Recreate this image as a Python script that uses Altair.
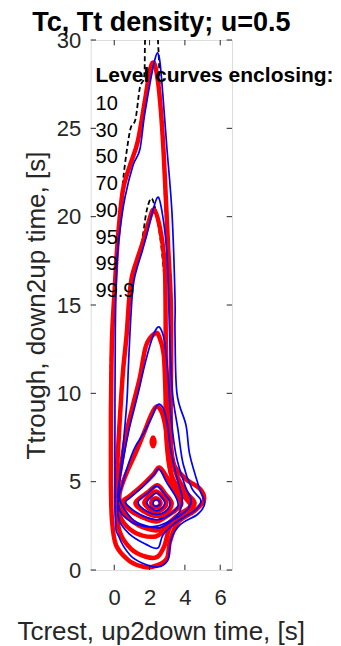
import altair as alt
import pandas as pd

# ---------------- data (data units) ----------------
title_text = "Tc, Tt density; u=0.5"
x_title = "Tcrest, up2down time, [s]"
y_title = "Ttrough, down2up time, [s]"
legend_header = "Level curves enclosing:"
levels = ["10", "30", "50", "70", "90", "95", "99", "99.9"]
x_ticks = [0, 2, 4, 6]
y_ticks = [0, 5, 10, 15, 20, 25, 30]
x_domain = [-1.333, 6.667]
y_domain = [0, 30]

# red (thick) level curves
red_999_x = [2.13, 2.95, 3.15, 3.6, 4.55, 5.08, 4.85, 4.0, 3.3, 3.2, 3.22, 3.2, 3.05, 2.9, 2.78, 2.64, 2.47, 2.25, 2.02, 1.79, 1.34, 0.89, 0.49, 0.2, 0.02, -0.13, -0.19, -0.19, -0.13, 0.1, 0.78, 1.45]
red_999_y = [0.17, 0.6, 1.6, 2.7, 3.35, 3.95, 4.6, 5.2, 6.2, 8.5, 11.9, 15.3, 18.3, 21.5, 23.9, 26.0, 27.7, 28.7, 28.3, 26.9, 24.3, 22.9, 21.5, 18.7, 15.8, 13.0, 8.5, 5.1, 2.83, 1.41, 0.57, 0.23]
red_99_x = [2.45, 2.85, 3.2, 4.1, 4.55, 4.0, 3.4, 3.05, 2.93, 2.9, 2.85, 2.6, 2.25, 1.95, 1.6, 1.3, 1.0, 0.85, 0.7, 0.5, 0.35, 0.2, 0.1, 0.3, 0.95, 1.8]
red_99_y = [0.75, 1.4, 2.5, 3.2, 3.8, 4.5, 5.8, 8.5, 12.0, 15.5, 17.4, 19.3, 20.4, 19.7, 18.5, 17.6, 16.6, 15.4, 13.3, 11.3, 9.1, 6.5, 4.0, 2.2, 1.2, 0.75]
red_95_x = [2.35, 2.8, 3.3, 4.1, 4.4, 3.8, 3.2, 2.95, 2.9, 2.8, 2.55, 2.3, 1.8, 1.45, 1.05, 0.7, 0.4, 0.15, 0.35, 0.9, 1.6]
red_95_y = [1.9, 2.2, 2.7, 3.3, 3.85, 4.4, 5.5, 7.5, 10.0, 12.2, 13.2, 13.4, 12.7, 10.9, 9.3, 7.8, 6.0, 4.2, 3.0, 2.3, 1.95]
red_90_x = [2.45, 3.0, 3.6, 4.3, 4.0, 3.4, 3.1, 2.95, 2.7, 2.4, 2.1, 1.7, 1.2, 0.7, 0.3, 0.45, 1.1, 1.8]
red_90_y = [2.25, 2.6, 3.1, 3.6, 4.1, 4.7, 6.2, 7.8, 8.9, 9.25, 8.8, 7.8, 6.6, 5.5, 4.3, 3.4, 2.7, 2.35]
red_70_x = [2.4, 2.9, 3.5, 3.8, 3.4, 2.95, 2.55, 2.2, 1.6, 0.9, 0.5, 1.0, 1.8]
red_70_y = [2.75, 3.0, 3.4, 3.8, 4.5, 5.3, 5.8, 5.4, 4.8, 4.2, 3.85, 3.3, 2.9]
red_50_x = [2.4, 3.0, 3.25, 2.9, 2.45, 1.9, 1.2, 1.7]
red_50_y = [3.05, 3.3, 3.8, 4.3, 4.8, 4.4, 3.8, 3.3]
red_30_x = [2.35, 2.8, 2.95, 2.7, 2.35, 1.95, 1.7, 2.0]
red_30_y = [3.3, 3.5, 3.85, 4.2, 4.45, 4.15, 3.8, 3.45]
red_10_x = [2.35, 2.6, 2.55, 2.3, 2.1, 2.15]
red_10_y = [3.55, 3.7, 3.95, 4.05, 3.85, 3.65]
red_10b_x = [2.2, 2.28, 2.2, 2.12]
red_10b_y = [7.0, 7.25, 7.5, 7.25]

# blue (thin) level curves
blue_999_x = [2.47, 3.04, 3.21, 3.72, 4.74, 5.13, 4.85, 4.28, 4.06, 3.55, 3.44, 3.44, 3.27, 2.98, 2.76, 2.55, 2.3, 1.74, 1.45, 1.06, 0.61, 0.32, 0.15, 0.06, 0.04, 0.06, 0.27, 0.89, 1.57]
blue_999_y = [0.17, 0.57, 1.7, 2.55, 3.17, 3.79, 4.53, 6.5, 8.2, 10.0, 13.4, 15.4, 20.2, 23.9, 26.8, 29.0, 28.9, 25.9, 23.8, 22.9, 21.1, 19.2, 17.4, 13.6, 8.5, 3.0, 1.87, 0.85, 0.4]
blue_99_x = [2.47, 2.76, 3.5, 4.6, 4.9, 4.4, 3.9, 3.6, 3.3, 3.15, 3.05, 2.95, 2.75, 2.5, 2.2, 1.85, 1.6, 1.12, 0.95, 0.8, 0.72, 0.5, 0.25, 0.25, 0.9, 1.8]
blue_99_y = [1.24, 1.98, 2.7, 3.4, 3.95, 4.6, 6.0, 8.0, 10.0, 13.0, 16.4, 18.3, 20.0, 21.1, 20.4, 19.0, 18.1, 16.4, 14.5, 11.5, 9.6, 7.0, 4.5, 2.9, 2.0, 1.45]
blue_95_x = [2.5, 3.0, 3.6, 4.2, 4.35, 4.0, 3.5, 3.2, 3.05, 2.85, 2.6, 2.35, 2.05, 1.7, 1.4, 1.15, 0.85, 0.5, 0.2, 0.35, 1.0, 1.8]
blue_95_y = [2.5, 2.7, 3.0, 3.5, 4.0, 4.8, 6.5, 8.8, 11.0, 12.9, 13.7, 13.6, 12.8, 11.5, 10.2, 9.2, 8.0, 6.2, 4.3, 3.3, 2.7, 2.45]
blue_90_x = [2.6, 3.2, 3.7, 3.85, 3.55, 3.2, 3.0, 2.75, 2.45, 2.15, 1.7, 1.2, 0.8, 0.45, 0.3, 1.0, 1.8]
blue_90_y = [2.4, 2.75, 3.3, 4.1, 5.2, 6.8, 8.3, 9.2, 9.35, 8.7, 7.8, 7.0, 6.0, 4.8, 4.0, 2.9, 2.5]
blue_70_x = [2.5, 3.1, 3.6, 3.5, 3.0, 2.55, 2.25, 1.6, 0.9, 0.65, 1.2, 1.9]
blue_70_y = [2.85, 3.1, 3.6, 4.1, 4.9, 5.7, 5.4, 4.7, 4.1, 3.8, 3.3, 2.95]
blue_50_x = [2.45, 3.0, 3.15, 2.85, 2.4, 1.9, 1.35, 1.8]
blue_50_y = [3.15, 3.4, 3.85, 4.3, 4.75, 4.35, 3.85, 3.35]
blue_30_x = [2.4, 2.75, 2.85, 2.65, 2.4, 2.05, 1.85, 2.1]
blue_30_y = [3.35, 3.55, 3.85, 4.15, 4.35, 4.1, 3.8, 3.5]
blue_10_x = [2.4, 2.6, 2.5, 2.3, 2.2, 2.25]
blue_10_y = [3.6, 3.75, 3.95, 3.95, 3.8, 3.65]

# black dashed level curves (mostly hidden under the red ones)
black_999_x = [2.1, 2.95, 3.15, 3.6, 4.55, 5.05, 4.85, 4.0, 3.3, 3.2, 3.2, 3.17, 3.0, 2.85, 2.75, 2.6, 2.5, 2.35, 1.8, 1.7, 1.45, 1.2, 0.9, 0.55, 0.32, 0.15, -0.05, -0.2, -0.22, -0.2, -0.15, 0.1, 0.8, 1.45]
black_999_y = [0.12, 0.55, 1.6, 2.7, 3.3, 3.95, 4.6, 5.2, 6.2, 8.5, 12.0, 15.3, 18.3, 21.5, 24.3, 26.8, 29.5, 31.0, 30.6, 28.0, 27.3, 25.5, 24.9, 22.5, 20.0, 18.1, 15.0, 12.0, 8.5, 5.1, 2.8, 1.4, 0.55, 0.2]
black_99_x = [2.4, 2.85, 3.2, 4.1, 4.5, 4.0, 3.4, 3.05, 2.93, 2.88, 2.75, 2.5, 2.15, 1.85, 1.6, 1.35, 1.05, 0.85, 0.7, 0.5, 0.35, 0.2, 0.1, 0.3, 0.95, 1.8]
black_99_y = [0.7, 1.4, 2.5, 3.2, 3.8, 4.5, 5.8, 8.5, 12.0, 15.5, 17.5, 19.5, 21.0, 20.4, 18.8, 17.5, 16.5, 15.2, 13.3, 11.3, 9.1, 6.5, 4.0, 2.2, 1.2, 0.7]

red_curves = {
    "r999": (red_999_x, red_999_y), "r99": (red_99_x, red_99_y), "r95": (red_95_x, red_95_y),
    "r90": (red_90_x, red_90_y), "r70": (red_70_x, red_70_y), "r50": (red_50_x, red_50_y),
    "r30": (red_30_x, red_30_y), "r10": (red_10_x, red_10_y), "r10b": (red_10b_x, red_10b_y),
}
blue_curves = {
    "b999": (blue_999_x, blue_999_y), "b99": (blue_99_x, blue_99_y), "b95": (blue_95_x, blue_95_y),
    "b90": (blue_90_x, blue_90_y), "b70": (blue_70_x, blue_70_y), "b50": (blue_50_x, blue_50_y),
    "b30": (blue_30_x, blue_30_y), "b10": (blue_10_x, blue_10_y),
}
black_curves = {"k999": (black_999_x, black_999_y), "k99": (black_99_x, black_99_y)}


def frame(curves):
    rows = []
    for name, (xs_, ys_) in curves.items():
        for i, (xv, yv) in enumerate(zip(xs_, ys_)):
            rows.append({"curve": name, "i": i, "x": xv, "y": yv})
    return pd.DataFrame(rows)


FONT = "Liberation Sans"
AX = "#262626"
xs = alt.Scale(domain=x_domain, nice=False, zero=False)
ys = alt.Scale(domain=y_domain, nice=False, zero=False)

x_axis = alt.Axis(values=x_ticks, ticks=False, tickSize=0, domain=False, grid=False,
                  labelFontSize=22, labelColor=AX, labelFont=FONT, labelPadding=17,
                  title=x_title, titleFontSize=26, titleFont=FONT, titleColor=AX,
                  titleFontWeight="normal", titleBaseline="alphabetic", titleX=70, titleY=69)
y_axis = alt.Axis(values=y_ticks, ticks=False, tickSize=0, domain=False, grid=False,
                  labelFontSize=22, labelColor=AX, labelFont=FONT, labelPadding=10,
                  labelBaseline="middle",
                  title=y_title, titleFontSize=26, titleFont=FONT, titleColor=AX,
                  titleFontWeight="normal", titleBaseline="alphabetic", titleAngle=-90,
                  titleX=-46, titleY=265)


def lines(df, **kw):
    return alt.Chart(df).mark_line(interpolate="cardinal-closed", clip=True, **kw).encode(
        x=alt.X("x:Q", scale=xs, axis=x_axis),
        y=alt.Y("y:Q", scale=ys, axis=y_axis),
        detail="curve:N",
        order="i:Q",
    )


black_layer = lines(frame(black_curves), color="black", strokeWidth=1.8, strokeDash=[5, 3])
red_layer = lines(frame(red_curves), color="#ff0000", strokeWidth=4.5, strokeCap="round", strokeJoin="round")
blue_layer = lines(frame(blue_curves), color="#0000ff", strokeWidth=1.7)

# MATLAB-style inward ticks
tick_len = 0.3
xt = pd.DataFrame({"t": x_ticks})
yt = pd.DataFrame({"t": y_ticks})
tick_style = dict(color=AX, strokeWidth=1)
xb = alt.Chart(xt).mark_rule(**tick_style).encode(
    x=alt.X("t:Q", scale=xs), y=alt.datum(y_domain[0], scale=ys), y2=alt.datum(y_domain[0] + tick_len))
xtop = alt.Chart(xt).mark_rule(**tick_style).encode(
    x=alt.X("t:Q", scale=xs), y=alt.datum(y_domain[1], scale=ys), y2=alt.datum(y_domain[1] - tick_len))
yl = alt.Chart(yt).mark_rule(**tick_style).encode(
    y=alt.Y("t:Q", scale=ys), x=alt.datum(x_domain[0], scale=xs), x2=alt.datum(x_domain[0] + tick_len))
yr = alt.Chart(yt).mark_rule(**tick_style).encode(
    y=alt.Y("t:Q", scale=ys), x=alt.datum(x_domain[1], scale=xs), x2=alt.datum(x_domain[1] - tick_len))

# text legend
text_x = -1.06
header_y = 27.6
first_y = 26.03
step = 1.51
head_df = pd.DataFrame({"label": [legend_header], "x": [text_x], "y": [header_y]})
lev_df = pd.DataFrame({"label": levels, "x": [text_x] * len(levels),
                       "y": [first_y - k * step for k in range(len(levels))]})
head = alt.Chart(head_df).mark_text(align="left", baseline="alphabetic", font=FONT, fontSize=21,
                                    fontWeight="bold", color="black").encode(
    x=alt.X("x:Q", scale=xs), y=alt.Y("y:Q", scale=ys), text="label:N")
levs = alt.Chart(lev_df).mark_text(align="left", baseline="alphabetic", font=FONT, fontSize=20,
                                   color="black").encode(
    x=alt.X("x:Q", scale=xs), y=alt.Y("y:Q", scale=ys), text="label:N")

chart = alt.layer(black_layer, red_layer, blue_layer, xb, xtop, yl, yr, head, levs).properties(
    width=141.3, height=530,
    title=alt.TitleParams(title_text, fontSize=27, fontWeight="bold", font=FONT, color="black",
                          anchor="middle", frame="group", baseline="alphabetic", offset=-29),
    autosize=alt.AutoSizeParams(type="none"),
    padding={"left": 82.7, "top": 32, "right": 101, "bottom": 76},
).configure_view(stroke=AX, strokeWidth=1).configure(background="white")

chart.save("out.html", embed_options={"renderer": "svg", "actions": False})
